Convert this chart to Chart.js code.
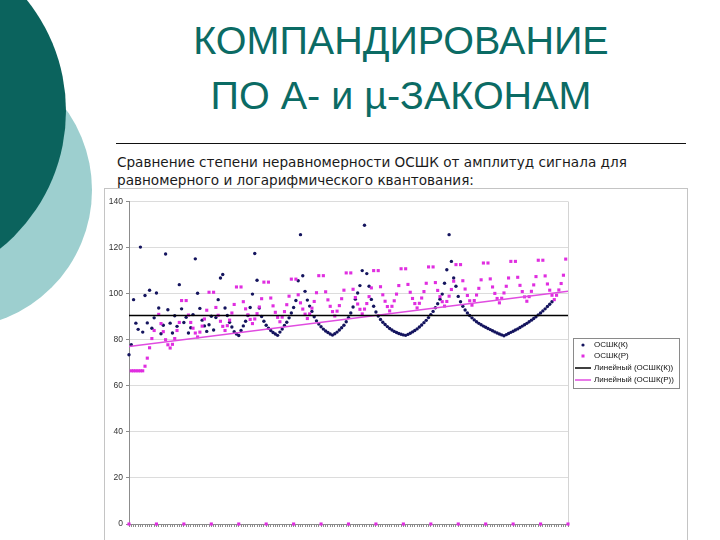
<!DOCTYPE html>
<html lang="ru">
<head>
<meta charset="utf-8">
<title>Компандирование по A- и µ-законам</title>
<script src="https://cdn.jsdelivr.net/npm/chart.js@4.4.1/dist/chart.umd.min.js"></script>
<style>
  html, body { margin: 0; padding: 0; background: #fff; }
  body { width: 720px; height: 540px; position: relative; overflow: hidden; }
  .circle { position: absolute; border-radius: 50%; }
  #circleLight { left: -184px; top: 52px; width: 276px; height: 276px; background: #9dcfcf; }
  #circleDark { left: -288px; top: -66px; width: 354px; height: 354px; background: #0b635d; }
  #title {
    position: absolute; left: 101px; top: 13px; width: 600px;
    text-align: center; font-family: "Liberation Sans", Arial, sans-serif;
    font-size: 39.5px; line-height: 55px; color: #0b6b64;
  }
  #rule { position: absolute; left: 116px; top: 143px; width: 570px; height: 0; border-top: 1.5px solid #111; }
  #subtitle {
    position: absolute; left: 117px; top: 153px; width: 600px;
    font-family: "DejaVu Sans", Verdana, sans-serif; font-size: 13.6px; line-height: 18px; color: #1a1a1a;
  }
  #frame { position: absolute; left: 104px; top: 188px; width: 582px; height: 400px; border: 1px solid #c4c4c4; }
  #chart { position: absolute; left: 103px; top: 187px; }
</style>
</head>
<body>
<div class="circle" id="circleLight"></div>
<div class="circle" id="circleDark"></div>
<div id="title">КОМПАНДИРОВАНИЕ<br>ПО А- и µ-ЗАКОНАМ</div>
<div id="rule"></div>
<div id="subtitle">Сравнение степени неравномерности ОСШК от амплитуд сигнала для<br>равномерного и логарифмического квантования:</div>
<div id="frame"></div>
<canvas id="chart" width="583" height="353"></canvas>

<script>
// amplitude steps (x categories), 0..192
const amplitudeSteps = Array.from({ length: 193 }, (_, i) => i);

const seriesNames = ["ОСШК(К)", "ОСШК(Р)", "Линейный (ОСШК(К))", "Линейный (ОСШК(Р))"];

// ОСШК(К) - uniform quantization
const osshK = [
  73.5, 77.8, 97.4, 87.2, 84.5, 120.2, 83.3, 99.2, 87.3, 101.5,
  85, 89.5, 100.3, 93.8, 82.6, 86.3, 117.2, 93, 87.2, 82.9,
  90.4, 85.8, 103.9, 93.4, 87.5, 89.7, 82.9, 85.2, 90.9, 115.1,
  100.2, 93.6, 88.5, 86, 83.6, 86.5, 90.2, 84.2, 89.6, 97.4,
  106.8, 108.3, 93.8, 90.5, 87.6, 85.5, 83.5, 82.5, 81.8,
  84, 86, 88, 90.5, 94, 99.8, 117.4, 105.8, 93.8, 90.1,
  88, 86.3, 85, 84, 83.1, 82.5, 81.9,
  83.3, 84.6, 86.2, 87.6, 89.5, 91.6, 94, 97, 105.6, 125.6,
  107.8, 101, 97.2, 94.6, 92.3, 90, 88.2, 86.8, 85.6, 84.6,
  83.8, 83.1, 82.5, 82,
  82.6, 83.3, 84.2, 85.2, 86.3, 87.8, 89.6, 91.6, 94.2, 97.6,
  100.3, 103.5, 110, 129.7, 108.7, 103.2, 97.5, 94.5, 92, 90.3,
  88.8, 87.6, 86.6, 85.7, 84.9, 84.2, 83.6, 83.1, 82.7, 82.4,
  82.1, 81.9,
  82.3, 82.8, 83.4, 84, 84.7, 85.5, 86.4, 87.4, 88.4, 89.6,
  90.9, 92.3, 93.9, 95.6, 97.6, 99.8, 104.5, 110.4, 125.6, 114,
  106.8, 103.2, 98.8,
  96.5, 94.5, 92.9, 91.6, 90.5, 89.5, 88.6, 87.8, 87.1, 86.5,
  85.9, 85.4, 84.9, 84.4, 83.9, 83.4, 82.9, 82.5, 82.1, 81.7,
  82.2, 82.7, 83.2, 83.7, 84.2, 84.7, 85.3, 85.9, 86.5, 87.1,
  87.8, 88.5, 89.2, 90, 90.8, 91.6, 92.5, 93.4, 94.4, 95.4,
  96.5, null, null, null, null, null, null, null
];

// ОСШК(Р) - logarithmic quantization
const osshP = [
  0, 66.5, 66.5, 66.5, 66.5, 66.5, 66.5, 68.5, 72, 76.5, 80.5, 84, 0,
  91, 87, 83.5, 80, 77.8, 76.4, 78, 80.5, 84, 87.5, 97, 0,
  97, 90.7, 87.5, 85, 82.9, 81.2, 83.3, 85.9, 89, 92.8, 100.6, 0,
  100.6, 94, 90.6, 88, 85.8, 84, 86.1, 88.5, 91.6, 95.3, 102.9, 0,
  102.9, 96.5, 93.4, 90.8, 88.8, 87, 89, 91.3, 94.2, 97.8, 105, 0,
  105, 98.1, 94.7, 91.9, 89.7, 87.8, 89.8, 92.2, 95.2, 98.9, 106.3, 0,
  106.3, 99.5, 96, 93.3, 91.1, 89.2, 91.2, 93.7, 96.6, 100.4, 107.8, 0,
  107.8, 100.8, 97.3, 94.5, 92.2, 90.3, 92.4, 94.8, 97.8, 101.5, 109, 0,
  109, 101.9, 98.3, 95.5, 93.2, 91.2, 93.3, 95.7, 98.7, 102.5, 110, 0,
  110, 103, 99.5, 96.7, 94.4, 92.5, 94.5, 96.9, 99.8, 103.5, 110.8, 0,
  110.8, 104, 100.6, 97.9, 95.7, 93.8, 95.8, 98.1, 100.9, 104.5, 111.6, 0,
  111.6, 104.8, 101.4, 98.7, 96.5, 94.6, 96.6, 98.9, 101.8, 105.4, 112.6, 0,
  112.6, 105.6, 102, 99.2, 96.9, 95, 97, 99.4, 102.3, 106, 113.3, 0,
  113.3, 106.4, 102.9, 100.1, 97.9, 96, 98, 100.3, 103.2, 106.8, 114, 0,
  114, 107.1, 103.6, 100.9, 98.6, 96.7, 98.7, 101, 103.8, 107.4, 114.5, 0,
  114.5, 107.7, 104.2, 101.5, 99.3, 97.4, 99.3, 101.6, 104.4, 108, 115, 0
];

// linear trend lines, values at first and last step
const trendK = [90.5, 90.5];
const trendP = [77, 101];

const yTicks = [0, 20, 40, 60, 80, 100, 120, 140];

const colorK = "#14145e";
const colorP = "#e02ee0";
const colorTrendP = "#e04ce0";

function toPoints(values) {
  return amplitudeSteps
    .map((x, i) => ({ x, y: values[i] }))
    .filter(p => p.y !== null && p.y !== undefined);
}

const lastStep = amplitudeSteps[amplitudeSteps.length - 1];

// -------- legend box (Excel style) ----------
const legendBox = {
  id: "legendBox",
  afterDraw(chart) {
    const ctx = chart.ctx;
    const left = 470, top = 151, w = 106, h = 50;
    ctx.save();
    ctx.fillStyle = "#fff";
    ctx.fillRect(left, top, w, h);
    ctx.strokeStyle = "#8a8a8a";
    ctx.lineWidth = 1;
    ctx.strokeRect(left + 0.5, top + 0.5, w, h);
    ctx.font = "8px 'Liberation Sans', Arial, sans-serif";
    ctx.textBaseline = "middle";
    const rows = [158, 169, 181, 193];
    rows.forEach((y, i) => {
      if (i === 0) {
        ctx.fillStyle = colorK;
        ctx.beginPath();
        ctx.arc(480, y, 1.6, 0, Math.PI * 2);
        ctx.fill();
      } else if (i === 1) {
        ctx.fillStyle = colorP;
        ctx.fillRect(478.5, y - 1.5, 3, 3);
      } else {
        ctx.strokeStyle = i === 2 ? "#000" : colorTrendP;
        ctx.lineWidth = 1.5;
        ctx.beginPath();
        ctx.moveTo(472, y);
        ctx.lineTo(488, y);
        ctx.stroke();
      }
      ctx.fillStyle = "#111";
      ctx.fillText(seriesNames[i], 491, y);
    });
    ctx.restore();
  }
};

// light border on the right side of the plot area
const plotBorder = {
  id: "plotBorder",
  beforeDatasetsDraw(chart) {
    const { ctx, chartArea } = chart;
    ctx.save();
    ctx.strokeStyle = "#d4d4d4";
    ctx.lineWidth = 1;
    ctx.beginPath();
    ctx.moveTo(chartArea.right + 0.5, chartArea.top);
    ctx.lineTo(chartArea.right + 0.5, chartArea.bottom);
    ctx.stroke();
    ctx.restore();
  }
};

const ctx = document.getElementById("chart").getContext("2d");

new Chart(ctx, {
  type: "scatter",
  data: {
    datasets: [
      {
        label: seriesNames[2],
        data: [{ x: 0, y: trendK[0] }, { x: lastStep, y: trendK[1] }],
        showLine: true,
        borderColor: "#000",
        borderWidth: 1.5,
        pointRadius: 0,
        order: 0
      },
      {
        label: seriesNames[3],
        data: [{ x: 0, y: trendP[0] }, { x: lastStep, y: trendP[1] }],
        showLine: true,
        borderColor: colorTrendP,
        borderWidth: 1.5,
        pointRadius: 0,
        order: 0
      },
      {
        label: seriesNames[0],
        data: toPoints(osshK),
        pointStyle: "circle",
        pointRadius: 1.7,
        pointBorderWidth: 0,
        pointBackgroundColor: colorK,
        clip: false,
        order: 2
      },
      {
        label: seriesNames[1],
        data: toPoints(osshP),
        pointStyle: "rect",
        pointRadius: 2.2,
        pointBorderWidth: 0,
        pointBackgroundColor: colorP,
        clip: false,
        order: 1
      }
    ]
  },
  options: {
    responsive: false,
    animation: false,
    devicePixelRatio: 1,
    layout: { padding: { left: 0, top: 14.5, right: 118, bottom: 0 } },
    plugins: {
      legend: { display: false },
      tooltip: { enabled: false }
    },
    scales: {
      x: {
        type: "linear",
        min: 0,
        max: lastStep,
        ticks: { display: false, stepSize: 1 },
        grid: { drawOnChartArea: false, drawTicks: true, tickLength: 3, tickColor: "#8c8c8c" },
        border: { color: "#8c8c8c" },
        afterFit: s => { s.height = 16; }
      },
      y: {
        min: yTicks[0],
        max: yTicks[yTicks.length - 1],
        afterBuildTicks: s => { s.ticks = yTicks.map(v => ({ value: v })); },
        ticks: {
          color: "#333",
          padding: 3,
          font: { family: "'Liberation Sans', Arial, sans-serif", size: 8.5 }
        },
        grid: { color: "#dcdcdc", tickLength: 3, tickColor: "#8c8c8c" },
        border: { color: "#8c8c8c" },
        afterFit: s => { s.width = 26; }
      }
    }
  },
  plugins: [plotBorder, legendBox]
});
</script>
</body>
</html>
